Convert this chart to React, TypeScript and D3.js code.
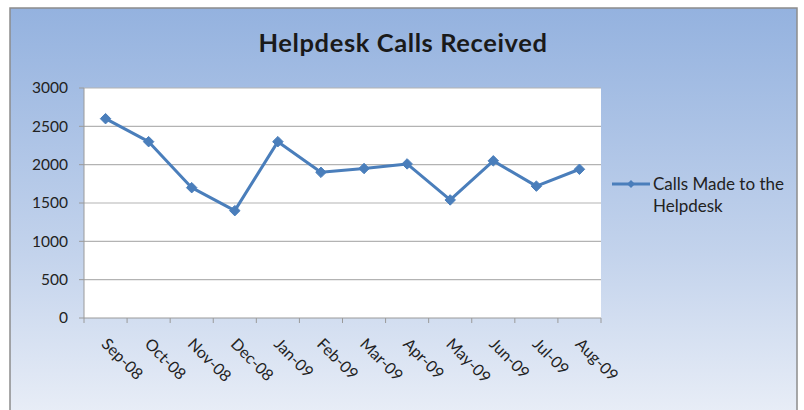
import React from 'react';
import * as d3 from 'd3';

const months = ['Sep-08', 'Oct-08', 'Nov-08', 'Dec-08', 'Jan-09', 'Feb-09', 'Mar-09', 'Apr-09', 'May-09', 'Jun-09', 'Jul-09', 'Aug-09'];
const calls = [2600, 2300, 1700, 1400, 2300, 1900, 1950, 2010, 1540, 2050, 1720, 1940];
const yTicks = [0, 500, 1000, 1500, 2000, 2500, 3000];
const seriesName = ['Calls Made to the', 'Helpdesk'];

const W = 804;
const H = 410;
const plot = { left: 84, right: 601, top: 88, bottom: 318 };
const font = 'Lato, "Open Sans", sans-serif';
const blue = '#4a7ebb';

export default function App() {
  const x = d3.scaleBand().domain(months).range([plot.left, plot.right]);
  const y = d3.scaleLinear().domain([0, 3000]).range([plot.bottom, plot.top]);

  const line = d3.line<number>()
    .x((d, i) => (x(months[i]) as number) + x.bandwidth() / 2)
    .y(d => y(d));

  const diamond = d3.symbol().type(d3.symbolDiamond2).size(70)();

  // tick marks at band edges
  const edges = months.map(m => x(m) as number).concat([plot.right]);

  return (
    <svg width={W} height={H} style={{ position: 'absolute', left: 0, top: 0 }}>
      <defs>
        <linearGradient id="bg" x1="0" y1="0" x2="0" y2="1">
          <stop offset="0%" stopColor="#94b2df" />
          <stop offset="60%" stopColor="#c3d3ec" />
          <stop offset="100%" stopColor="#e9eef7" />
        </linearGradient>
      </defs>
      <rect x={0} y={0} width={W} height={H} fill="#fff" />
      <rect x={10} y={8} width={787} height={410} fill="url(#bg)" stroke="#8c8c8c" strokeWidth={1.5} />

      <text x={403} y={52} textAnchor="middle" fontFamily={font} fontWeight="bold" fontSize={25.5} letterSpacing={0.6} fill="#1a1a1a">
        Helpdesk Calls Received
      </text>

      <rect x={plot.left} y={plot.top} width={plot.right - plot.left} height={plot.bottom - plot.top} fill="#fff" />

      {yTicks.map(t => (
        <g key={t}>
          {t > 0 && <line x1={plot.left} x2={plot.right} y1={y(t)} y2={y(t)} stroke="#b3b3b3" strokeWidth={1.2} />}
          <line x1={plot.left - 5} x2={plot.left} y1={y(t)} y2={y(t)} stroke="#9a9a9a" />
          <text x={68} y={y(t)} dy="0.35em" textAnchor="end" fontFamily={font} fontSize={15.5} fill="#222">
            {t}
          </text>
        </g>
      ))}

      <line x1={plot.left} x2={plot.left} y1={plot.top} y2={plot.bottom} stroke="#9a9a9a" />
      <line x1={plot.left} x2={plot.right} y1={plot.bottom} y2={plot.bottom} stroke="#9a9a9a" />
      {edges.map((e, i) => (
        <line key={i} x1={e} x2={e} y1={plot.bottom} y2={plot.bottom + 5} stroke="#9a9a9a" />
      ))}

      {months.map(m => {
        const cx = (x(m) as number) + x.bandwidth() / 2 - 5;
        const cy = plot.bottom + 27;
        return (
          <text key={m} x={cx} y={cy} transform={`rotate(45 ${cx} ${cy})`} fontFamily={font} fontSize={16} fill="#222">
            {m}
          </text>
        );
      })}

      <path d={line(calls) || ''} fill="none" stroke={blue} strokeWidth={3} strokeLinejoin="round" />
      {calls.map((v, i) => (
        <path key={i} d={diamond || ''} transform={`translate(${(x(months[i]) as number) + x.bandwidth() / 2},${y(v)})`} fill={blue} stroke={blue} />
      ))}

      <line x1={612} x2={650} y1={184} y2={184} stroke={blue} strokeWidth={3} />
      <path d={d3.symbol().type(d3.symbolDiamond2).size(40)() || ''} transform="translate(631,184)" fill={blue} />
      {seriesName.map((s, i) => (
        <text key={s} x={653} y={184 + i * 22} dy="0.35em" fontFamily={font} fontSize={17} fill="#222">
          {s}
        </text>
      ))}
    </svg>
  );
}
